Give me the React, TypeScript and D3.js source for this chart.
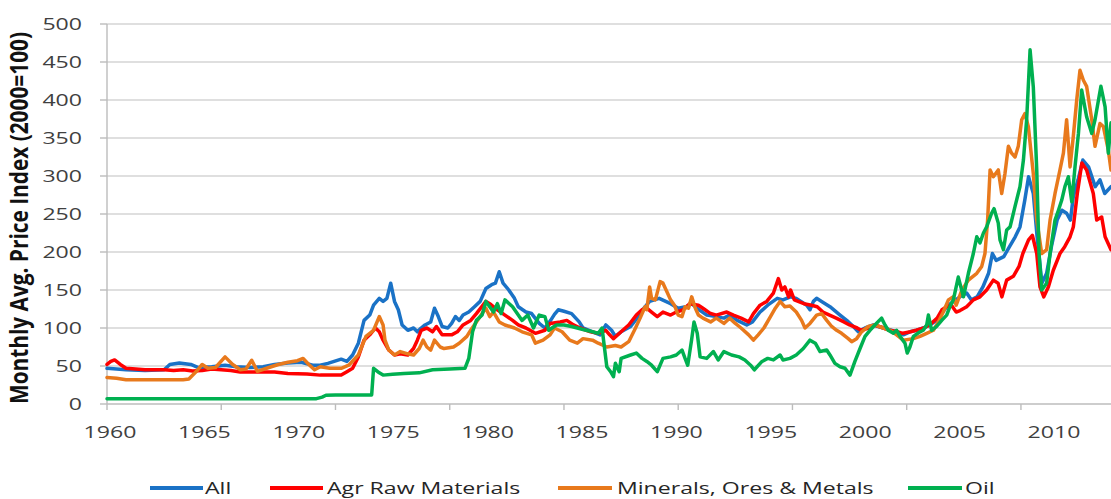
import React from 'react';
import * as d3 from 'd3';

const seriesNames = ['All', 'Agr Raw Materials', 'Minerals, Ores & Metals', 'Oil'];
const yTickValues = [0, 50, 100, 150, 200, 250, 300, 350, 400, 450, 500];
const xLabelYears = [1960, 1965, 1970, 1975, 1980, 1985, 1990, 1995, 2000, 2005, 2010];
const xTickYears = [1960, 1966, 1972, 1978, 1984, 1990, 1996, 2002, 2008];
const yTitle = 'Monthly Avg. Price Index (2000=100)';

// [decimal year, index value]
const allData: [number, number][] = [
  [1960.0, 47], [1960.5, 46], [1961.0, 45], [1962.0, 44], [1963.0, 45], [1963.3, 52], [1963.8, 54], [1964.4, 52],
  [1964.8, 48], [1965.5, 49], [1966.2, 51], [1966.8, 49], [1967.5, 48], [1968.2, 49], [1968.8, 52], [1969.5, 54],
  [1970.2, 55], [1970.8, 51], [1971.2, 51], [1971.6, 53.5], [1972.3, 59], [1972.6, 56], [1972.9, 64.5], [1973.2, 80],
  [1973.5, 110], [1973.8, 117], [1974.0, 130], [1974.3, 139], [1974.5, 135], [1974.7, 139], [1974.9, 159], [1975.1, 135],
  [1975.3, 124], [1975.5, 104], [1975.8, 97], [1976.1, 100], [1976.3, 95], [1976.5, 100], [1976.7, 104], [1977.0, 108],
  [1977.2, 126], [1977.4, 115], [1977.6, 102], [1977.9, 100], [1978.1, 106], [1978.3, 115], [1978.5, 110], [1978.7, 117],
  [1979.0, 121], [1979.3, 128], [1979.6, 135], [1979.9, 152], [1980.2, 157], [1980.4, 159], [1980.6, 174], [1980.8, 159],
  [1981.1, 150], [1981.4, 139], [1981.6, 128], [1982.0, 121], [1982.3, 119], [1982.7, 106], [1983.0, 100], [1983.3, 110],
  [1983.5, 118], [1983.7, 124], [1984.0, 122], [1984.4, 119], [1984.8, 108], [1985.0, 100], [1985.5, 95], [1985.9, 91],
  [1986.2, 104], [1986.5, 97], [1986.7, 89], [1987.0, 95], [1987.5, 102], [1987.9, 115], [1988.2, 126], [1988.5, 135],
  [1989.0, 139], [1989.6, 132], [1990.0, 126], [1990.4, 128], [1990.7, 132], [1991.1, 124], [1991.5, 117], [1992.0, 115],
  [1992.4, 113], [1992.7, 117], [1993.1, 110], [1993.6, 104], [1993.9, 108], [1994.3, 121], [1994.7, 130], [1995.2, 139],
  [1995.5, 137], [1995.9, 141], [1996.2, 139], [1996.75, 130], [1996.92, 124], [1997.1, 135], [1997.27, 139], [1997.53, 135],
  [1997.97, 128], [1998.5, 117], [1998.85, 110], [1999.2, 102], [1999.46, 95], [1999.81, 100], [2000.25, 104], [2000.77, 100],
  [2001.47, 95], [2001.82, 91], [2002.17, 95], [2002.52, 97], [2002.87, 100], [2003.22, 104], [2003.57, 110], [2003.84, 119],
  [2004.1, 128], [2004.45, 135], [2004.8, 141], [2005.15, 146], [2005.4, 137], [2005.7, 141], [2006.0, 154], [2006.3, 172],
  [2006.5, 198], [2006.7, 189], [2007.1, 194], [2007.4, 207], [2007.7, 220], [2007.95, 233], [2008.2, 268], [2008.4, 299],
  [2008.65, 277], [2008.85, 220], [2009.1, 159], [2009.35, 172], [2009.6, 207], [2009.9, 242], [2010.15, 255], [2010.4, 251],
  [2010.6, 242], [2010.75, 273], [2011.0, 295], [2011.25, 321], [2011.55, 312], [2011.9, 286], [2012.15, 295], [2012.4, 277],
  [2012.73, 286],
];

const agrData: [number, number][] = [
  [1960.0, 52], [1960.2, 56], [1960.4, 58], [1960.7, 52], [1961.0, 47], [1961.5, 46], [1962.0, 45], [1963.0, 45],
  [1963.5, 44], [1964.0, 45], [1964.5, 43.5], [1965.0, 44], [1965.5, 46], [1966.0, 45], [1966.5, 44], [1967.0, 42],
  [1968.0, 42], [1968.8, 42], [1969.5, 40], [1970.5, 39.5], [1971.2, 38], [1971.7, 38], [1972.3, 38], [1972.6, 42.5],
  [1972.9, 47], [1973.2, 62], [1973.5, 84], [1973.8, 91], [1974.1, 100], [1974.3, 95], [1974.5, 84], [1974.8, 71],
  [1975.1, 64.5], [1975.4, 66], [1975.8, 64.5], [1976.1, 73], [1976.3, 84], [1976.5, 97], [1976.8, 100], [1977.1, 95],
  [1977.3, 102], [1977.6, 91], [1978.1, 91], [1978.4, 95], [1978.7, 104], [1979.1, 110], [1979.4, 119], [1979.9, 135],
  [1980.1, 132], [1980.5, 124], [1980.9, 117], [1981.3, 110], [1981.6, 104], [1982.0, 100], [1982.5, 93], [1983.0, 97],
  [1983.27, 106], [1983.8, 108], [1984.15, 110], [1984.5, 104], [1984.85, 100], [1985.4, 95], [1985.8, 93], [1986.2, 97],
  [1986.4, 91], [1986.6, 86], [1987.0, 95], [1987.4, 104], [1987.8, 117], [1988.1, 124], [1988.35, 126], [1988.6, 121],
  [1988.9, 115], [1989.2, 121], [1989.6, 117], [1989.9, 121], [1990.27, 124], [1990.6, 132], [1991.06, 130], [1991.3, 126],
  [1991.7, 119], [1992.0, 117], [1992.55, 121], [1992.9, 117], [1993.3, 113], [1993.7, 108], [1993.95, 119], [1994.3, 130],
  [1994.65, 135], [1995.0, 146], [1995.26, 165], [1995.44, 150], [1995.6, 154], [1995.8, 141], [1995.9, 150], [1996.1, 137],
  [1996.6, 132], [1997.0, 130], [1997.3, 128], [1997.6, 121], [1997.95, 117], [1998.3, 113], [1998.7, 108], [1999.0, 104],
  [1999.4, 100], [1999.6, 97], [2000.0, 100], [2000.3, 104], [2000.8, 100], [2001.1, 97], [2001.5, 95], [2001.8, 93],
  [2002.2, 95], [2002.5, 97], [2002.9, 100], [2003.2, 104], [2003.6, 113], [2003.85, 124], [2004.1, 128], [2004.35, 130],
  [2004.6, 121], [2004.8, 123], [2005.15, 128], [2005.5, 137], [2005.85, 141], [2006.2, 150], [2006.55, 163], [2006.8, 159],
  [2007.0, 141], [2007.25, 163], [2007.6, 168], [2007.9, 181], [2008.1, 198], [2008.4, 216], [2008.6, 222], [2008.83, 198],
  [2009.0, 154], [2009.2, 141], [2009.44, 154], [2009.7, 176], [2010.05, 198], [2010.3, 207], [2010.58, 220], [2010.75, 233],
  [2010.96, 277], [2011.2, 317], [2011.45, 308], [2011.8, 277], [2011.98, 242], [2012.24, 246], [2012.42, 220], [2012.73, 203],
];

const mineralsData: [number, number][] = [
  [1960.0, 35], [1960.5, 34], [1961.0, 32], [1962.0, 32], [1963.0, 32], [1964.0, 32], [1964.3, 33], [1964.7, 43],
  [1965.0, 52], [1965.3, 47], [1965.7, 48], [1966.2, 62], [1966.6, 52], [1967.0, 45], [1967.3, 46], [1967.6, 57.5],
  [1967.9, 43], [1968.5, 48], [1969.0, 52], [1969.5, 55], [1970.0, 57], [1970.3, 60], [1970.6, 52], [1970.9, 45],
  [1971.2, 49], [1971.7, 47], [1972.3, 47], [1972.7, 51], [1973.2, 64.5], [1973.6, 89], [1974.0, 97], [1974.3, 115],
  [1974.5, 104], [1974.6, 84], [1974.8, 71], [1975.1, 64.5], [1975.4, 69], [1975.8, 66], [1976.1, 64.5], [1976.4, 73],
  [1976.6, 84], [1976.8, 75], [1977.0, 71], [1977.2, 84], [1977.5, 75], [1977.7, 73], [1978.2, 75], [1978.5, 80],
  [1978.9, 89], [1979.1, 97], [1979.4, 108], [1979.7, 119], [1979.9, 126], [1980.1, 115], [1980.3, 121], [1980.6, 108],
  [1980.9, 104], [1981.4, 100], [1981.8, 95], [1982.3, 91], [1982.5, 80], [1982.9, 84], [1983.27, 91], [1983.5, 100],
  [1983.9, 95], [1984.3, 84], [1984.7, 80], [1985.0, 86], [1985.5, 84], [1985.8, 80], [1986.25, 75], [1986.7, 77],
  [1987.0, 75], [1987.4, 82], [1987.7, 97], [1988.0, 113], [1988.26, 128], [1988.35, 124], [1988.5, 154], [1988.6, 139],
  [1988.8, 137], [1989.05, 161], [1989.2, 159], [1989.4, 148], [1989.6, 137], [1989.8, 130], [1990.0, 117], [1990.2, 115],
  [1990.36, 128], [1990.54, 126], [1990.71, 141], [1990.9, 126], [1991.06, 117], [1991.3, 113], [1991.7, 108], [1992.0, 113],
  [1992.4, 106], [1992.7, 113], [1993.0, 106], [1993.3, 100], [1993.7, 91], [1993.95, 84], [1994.2, 91], [1994.5, 100],
  [1994.8, 113], [1995.1, 126], [1995.35, 135], [1995.6, 128], [1995.87, 129], [1996.2, 121], [1996.48, 110], [1996.66, 100],
  [1996.92, 106], [1997.27, 117], [1997.53, 119], [1997.8, 110], [1998.06, 102], [1998.32, 97], [1998.58, 93], [1998.93, 86],
  [1999.11, 82], [1999.37, 86], [1999.63, 95], [1999.98, 102], [2000.33, 104], [2000.77, 100], [2001.12, 97], [2001.47, 91],
  [2001.82, 84], [2002.35, 86], [2002.7, 89], [2003.05, 93], [2003.4, 97], [2003.66, 108], [2003.92, 121], [2004.19, 137],
  [2004.45, 141], [2004.6, 130], [2004.9, 150], [2005.24, 163], [2005.68, 172], [2005.94, 181], [2006.11, 198], [2006.25, 242],
  [2006.38, 308], [2006.55, 299], [2006.81, 308], [2006.99, 277], [2007.16, 303], [2007.34, 339], [2007.51, 330], [2007.69, 325],
  [2007.86, 339], [2008.04, 374], [2008.21, 382], [2008.39, 365], [2008.65, 303], [2008.83, 242], [2009.09, 198], [2009.35, 203],
  [2009.53, 242], [2009.79, 277], [2010.05, 308], [2010.23, 330], [2010.4, 374], [2010.58, 312], [2010.75, 352], [2010.93, 400],
  [2011.1, 439], [2011.28, 426], [2011.45, 418], [2011.72, 374], [2011.89, 339], [2012.15, 369], [2012.33, 365], [2012.59, 334],
  [2012.73, 308],
];

const oilData: [number, number][] = [
  [1960.0, 7], [1971.0, 7], [1971.3, 9], [1971.5, 11.5], [1972.0, 12], [1973.0, 12], [1973.9, 12], [1974.0, 47],
  [1974.3, 41], [1974.5, 38], [1975.0, 39], [1975.6, 40], [1976.4, 41], [1977.1, 45], [1978.0, 46], [1978.8, 47],
  [1979.0, 60], [1979.2, 95], [1979.4, 110], [1979.7, 117], [1979.9, 135], [1980.3, 121], [1980.5, 132], [1980.7, 119],
  [1980.9, 137], [1981.3, 128], [1981.8, 110], [1982.1, 117], [1982.4, 100], [1982.7, 117], [1983.0, 115], [1983.2, 97],
  [1983.6, 104], [1984.0, 104], [1984.4, 102], [1984.7, 100], [1985.0, 98], [1985.5, 95], [1985.8, 93], [1986.0, 100],
  [1986.25, 49], [1986.45, 42.5], [1986.6, 36], [1986.7, 53.5], [1986.9, 42.5], [1987.0, 60], [1987.5, 64.5], [1987.8, 67],
  [1988.1, 60], [1988.35, 56], [1988.6, 51], [1988.9, 42.5], [1989.2, 60], [1989.6, 62], [1989.9, 64.5], [1990.2, 71],
  [1990.36, 60], [1990.5, 51], [1990.7, 84], [1990.83, 108], [1991.0, 93], [1991.15, 62], [1991.5, 60], [1991.85, 69],
  [1992.1, 58], [1992.4, 69], [1992.8, 64.5], [1993.2, 62], [1993.5, 58], [1993.8, 51], [1994.0, 45], [1994.4, 56],
  [1994.7, 60], [1995.0, 58], [1995.35, 64.5], [1995.5, 58], [1995.87, 60], [1996.2, 64.5], [1996.57, 73], [1996.92, 84],
  [1997.2, 80], [1997.45, 69], [1997.8, 71], [1997.97, 64.5], [1998.23, 53.5], [1998.5, 49], [1998.76, 47], [1999.02, 38],
  [1999.28, 56], [1999.55, 73], [1999.81, 89], [2000.07, 97], [2000.33, 104], [2000.68, 113], [2000.86, 104], [2001.03, 97],
  [2001.3, 93], [2001.47, 97], [2001.65, 89], [2001.91, 80], [2002.03, 67], [2002.17, 75], [2002.35, 89], [2002.7, 95],
  [2002.87, 97], [2003.05, 104], [2003.14, 117], [2003.31, 97], [2003.57, 102], [2003.84, 110], [2004.1, 117], [2004.27, 128],
  [2004.45, 137], [2004.71, 167], [2004.98, 141], [2005.24, 172], [2005.5, 198], [2005.68, 220], [2005.85, 212], [2006.03, 225],
  [2006.2, 233], [2006.46, 251], [2006.59, 257], [2006.81, 238], [2006.9, 216], [2007.08, 203], [2007.25, 229], [2007.43, 233],
  [2007.69, 260], [2007.95, 286], [2008.13, 321], [2008.3, 374], [2008.48, 466], [2008.65, 417], [2008.83, 308], [2008.95, 198],
  [2009.09, 150], [2009.35, 159], [2009.53, 198], [2009.79, 242], [2009.97, 255], [2010.14, 268], [2010.31, 286], [2010.49, 299],
  [2010.67, 266], [2010.84, 312], [2011.02, 356], [2011.19, 413], [2011.45, 378], [2011.72, 356], [2011.89, 374], [2012.2, 418],
  [2012.42, 391], [2012.59, 330], [2012.73, 370],
];

const seriesData = [allData, agrData, mineralsData, oilData];
const colors = ['#1a72c6', '#ff0000', '#e8791c', '#00b050'];

const W = 1111;
const H = 499;
const SX = 1.4; // horizontal text stretch seen in the reference
const FONT = '"Open Sans", Lato, sans-serif';

export default function App() {
  const x = d3.scaleLinear().domain([1960, 2012.73]).range([107, 1111]);
  const y = d3.scaleLinear().domain([0, 500]).range([404, 24]);
  const labelX = d3.scaleLinear().domain([1960, 2010]).range([110, 1054]);
  const line = d3
    .line<[number, number]>()
    .x((d) => x(d[0]))
    .y((d) => y(d[1]));

  const legendItems = [
    { x1: 150, x2: 203, tx: 205 },
    { x1: 270, x2: 323, tx: 327 },
    { x1: 558, x2: 612, tx: 617 },
    { x1: 908, x2: 962, tx: 965 },
  ];

  return (
    <svg
      width={W}
      height={H}
      style={{ position: 'absolute', left: 0, top: 0, background: '#fff' }}
      fontFamily={FONT}
    >
      <rect x={0} y={0} width={W} height={H} fill="#fff" />
      {yTickValues.map((v) => (
        <g key={v}>
          {v > 0 && (
            <line x1={107} x2={W} y1={y(v)} y2={y(v)} stroke="#d4d4d4" strokeWidth={1.6} />
          )}
          <line x1={100} x2={107} y1={y(v)} y2={y(v)} stroke="#bcbcbc" strokeWidth={1.4} />
          <text
            transform={`translate(82,${y(v) + 6}) scale(${SX},1)`}
            textAnchor="end"
            fontSize={16.5}
            fill="#404040"
          >
            {v}
          </text>
        </g>
      ))}
      <line x1={107} x2={107} y1={24} y2={404} stroke="#bcbcbc" strokeWidth={1.4} />
      <line x1={107} x2={W} y1={404} y2={404} stroke="#bcbcbc" strokeWidth={1.4} />
      {xTickYears.map((t) => (
        <line key={t} x1={x(t)} x2={x(t)} y1={404} y2={410} stroke="#bcbcbc" strokeWidth={1.4} />
      ))}
      {xLabelYears.map((t) => (
        <text
          key={t}
          transform={`translate(${labelX(t)},438) scale(${SX},1)`}
          textAnchor="middle"
          fontSize={16.5}
          fill="#404040"
        >
          {t}
        </text>
      ))}
      <text
        transform={`translate(28,218) rotate(-90) scale(1,1.4)`}
        textAnchor="middle"
        fontSize={18}
        fontWeight="bold"
        fill="#111"
        textLength={372}
        lengthAdjust="spacingAndGlyphs"
      >
        {yTitle}
      </text>
      {seriesData.map((d, i) => (
        <path
          key={seriesNames[i]}
          d={line(d) || ''}
          fill="none"
          stroke={colors[i]}
          strokeWidth={3.5}
          strokeLinejoin="round"
          strokeLinecap="round"
        />
      ))}
      {seriesNames.map((name, i) => (
        <g key={name}>
          <line
            x1={legendItems[i].x1}
            x2={legendItems[i].x2}
            y1={488}
            y2={488}
            stroke={colors[i]}
            strokeWidth={4}
          />
          <text
            transform={`translate(${legendItems[i].tx},494) scale(${SX},1)`}
            fontSize={16.5}
            fill="#262626"
          >
            {name}
          </text>
        </g>
      ))}
    </svg>
  );
}
